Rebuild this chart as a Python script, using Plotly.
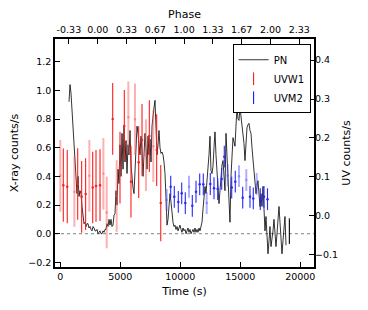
import numpy as np
import plotly.graph_objects as go

# ---------------- data ----------------
# EPIC-pn X-ray light curve (counts/s), regular bins
pn_start = 725.0
pn_bin = 83.33
pn_rate = [0.92, 1.04, 0.98, 0.86, 0.75, 0.63, 0.58, 0.44, 0.28, 0.40,
           0.26, 0.30, 0.28, 0.19, 0.12, 0.07, 0.08, 0.05, 0.07, 0.07,
           0.04, 0.05, 0.03, 0.02, 0.05, 0.04, 0.02, 0.02, 0.03, 0.00,
           0.01, 0.02, 0.00, 0.00, 0.02, 0.01, 0.03, 0.03, 0.07, 0.05,
           0.10, 0.06, 0.10, 0.05, 0.06, 0.13, 0.14, 0.30, 0.20, 0.45,
           0.35, 0.62, 0.40, 0.70, 0.45, 0.75, 0.50, 0.65, 0.42, 0.62,
           0.55, 0.72, 0.48, 0.38, 0.32, 0.28, 0.45, 0.60, 0.75, 0.70,
           0.62, 0.55, 0.68, 0.58, 0.40, 0.55, 0.70, 0.60, 0.45, 0.68,
           0.55, 0.66, 0.50, 0.75, 0.85, 0.88, 0.93, 0.78, 0.55, 0.62,
           0.72, 0.60, 0.56, 0.57, 0.55, 0.50, 0.42, 0.25, 0.06, 0.10,
           0.19, 0.28, 0.22, 0.12, 0.08, 0.05, 0.06, 0.03, 0.05, 0.02,
           0.04, 0.06, 0.03, 0.01, 0.04, 0.02, 0.03, 0.00, 0.02, 0.04,
           0.01, 0.03, 0.00, 0.02, 0.03, 0.01, 0.04, 0.01, 0.03, 0.01,
           0.04, 0.02, 0.05, 0.08, 0.17, 0.26, 0.33, 0.28, 0.36, 0.44,
           0.55, 0.68, 0.44, 0.42, 0.47, 0.60, 0.71, 0.55, 0.44, 0.30,
           0.21, 0.30, 0.44, 0.48, 0.51, 0.38, 0.30, 0.70, 0.55, 0.40,
           0.25, 0.08, 0.40, 0.55, 0.67, 0.64, 0.61, 0.75, 0.88, 0.80,
           0.79, 0.88, 0.82, 0.74, 0.68, 0.63, 0.51, 0.62, 0.74, 0.76,
           0.77, 0.72, 0.70, 0.60, 0.51, 0.42, 0.33, 0.28, 0.33, 0.37,
           0.28, 0.19, 0.28, 0.19, 0.33, 0.10, 0.02, 0.12, -0.05, -0.14,
           -0.05, 0.05, -0.09, -0.05, 0.02, 0.10, -0.02, -0.09, 0.00, 0.10,
           0.19, 0.08, -0.02, -0.14, -0.05, 0.05, 0.12, -0.08]
pn_time = list(pn_start + pn_bin * np.arange(len(pn_rate)))
# last isolated bins after a gap
pn_tail_time = [19080, 19090, 19100]
pn_tail_rate = [0.11, -0.07, 0.10]

# OM UVW1 (counts/s)
uvw1_time = [0, 250, 580, 1170, 1450, 1780, 2110, 2420, 2700, 2975, 3310, 3590, 3865,
             4365, 4700, 4975, 5335, 5670, 5890, 6225, 6530, 6810, 7140, 7420, 7750,
             8030, 8370]
uvw1_rate = [0.103, 0.079, 0.075, 0.062, 0.082, 0.049, 0.056, 0.103, 0.073, 0.077,
             0.079, 0.108, 0.009, 0.249, 0.051, 0.124, 0.231, 0.253, 0.088, 0.248,
             0.138, 0.195, 0.156, 0.205, 0.179, 0.169, 0.033]
uvw1_err = [0.092, 0.094, 0.094, 0.090, 0.092, 0.092, 0.092, 0.092, 0.092, 0.092,
            0.092, 0.092, 0.092, 0.092, 0.092, 0.092, 0.092, 0.092, 0.092, 0.092,
            0.092, 0.092, 0.092, 0.092, 0.092, 0.092, 0.098]
uvw1_faint = [1, 0, 0, 1, 0, 0, 0, 1, 0, 0, 0, 1, 1, 0, 1, 0, 0, 1, 0, 1,
              0, 0, 1, 0, 1, 0, 0]

# OM UVM2 (counts/s)
uvm2_time = [8867, 9200, 9500, 9833, 10117, 10417, 10725, 11000, 11308, 11617,
             11917, 12200, 12500, 12808, 13117, 13450, 13667, 13950, 14283, 14583,
             14892, 15200, 15500, 15808, 16083, 16367, 16667, 16975, 17267]
uvm2_rate = [0.041, 0.075, 0.049, 0.036, 0.058, 0.033, 0.075, 0.026, 0.062, 0.081,
             0.081, 0.033, 0.082, 0.071, 0.069, 0.095, 0.152, 0.104, 0.073, 0.088,
             0.102, 0.047, 0.092, 0.049, 0.045, 0.082, 0.043, 0.049, 0.043]
uvm2_err = [0.028] * len(uvm2_rate)
uvm2_faint = [1, 0, 0, 0, 0, 0, 1, 0, 0, 0, 0, 1, 0, 0, 0, 0, 0, 1, 0, 0,
              1, 0, 1, 0, 0, 1, 0, 0, 0]

# axis ticks
time_ticks = [0, 5000, 10000, 15000, 20000]
time_labels = ["0", "5000", "10000", "15000", "20000"]
phase_t0 = 3117.0
period = 7200.0
phase_ticks = [-1/3, 0, 1/3, 2/3, 1, 4/3, 5/3, 2, 7/3]
phase_labels = ["-0.33", "0.00", "0.33", "0.67", "1.00", "1.33", "1.67", "2.00", "2.33"]
xray_ticks = [-0.2, 0, 0.2, 0.4, 0.6, 0.8, 1.0, 1.2]
uv_ticks = [-0.1, 0, 0.1, 0.2, 0.3, 0.4]

x_range = [-442, 21142]
yl_range = [-0.232, 1.358]
yr_range = [-0.131, 0.454]

FONT = "DejaVu Sans"
PAGE_OFFSET = 8  # default body margin of the html page

fig = go.Figure()

# PN light curve
fig.add_trace(go.Scatter(x=pn_time + [None] + pn_tail_time,
                         y=pn_rate + [None] + pn_tail_rate,
                         mode="lines", line=dict(color="black", width=0.8),
                         connectgaps=False, showlegend=False, hoverinfo="skip",
                         xaxis="x", yaxis="y"))


def uv_traces(t, r, e, faint, strong_col, faint_col):
    for flag, col, w in [(1, faint_col, 2.0), (0, strong_col, 1.1)]:
        xs = [a for a, f in zip(t, faint) if f == flag]
        ys = [a for a, f in zip(r, faint) if f == flag]
        es = [a for a, f in zip(e, faint) if f == flag]
        fig.add_trace(go.Scatter(
            x=xs, y=ys, mode="markers",
            marker=dict(color=col, size=2.5, line=dict(width=0)),
            error_y=dict(type="data", array=es, visible=True, color=col,
                         thickness=w, width=0),
            showlegend=False, hoverinfo="skip", xaxis="x", yaxis="y2"))


uv_traces(uvw1_time, uvw1_rate, uvw1_err, uvw1_faint,
          "rgb(255,30,30)", "rgba(255,80,80,0.45)")
uv_traces(uvm2_time, uvm2_rate, uvm2_err, uvm2_faint,
          "rgb(40,40,255)", "rgba(80,80,255,0.45)")

# legend-only entries
fig.add_trace(go.Scatter(x=[None], y=[None], mode="lines", name="PN",
                         line=dict(color="black", width=0.8), xaxis="x", yaxis="y"))
fig.add_trace(go.Scatter(x=[None], y=[None], mode="markers", name="UVW1",
                         marker=dict(symbol="line-ns-open", size=9, color="red",
                                     line=dict(color="red", width=1)),
                         xaxis="x", yaxis="y"))
fig.add_trace(go.Scatter(x=[None], y=[None], mode="markers", name="UVM2",
                         marker=dict(symbol="line-ns-open", size=9, color="blue",
                                     line=dict(color="blue", width=1)),
                         xaxis="x", yaxis="y"))
# invisible trace to anchor phase axis
fig.add_trace(go.Scatter(x=[None], y=[None], xaxis="x2", yaxis="y",
                         showlegend=False, hoverinfo="skip"))

# zero line
fig.add_shape(type="line", xref="paper", yref="y", x0=0, x1=1, y0=0, y1=0,
              line=dict(color="gray", width=1, dash="dot"), layer="below")

tickfont = dict(family=FONT, size=9.5, color="black")
titlefont = dict(family=FONT, size=11, color="black")

fig.update_layout(
    width=368 - PAGE_OFFSET, height=310 - PAGE_OFFSET,
    margin=dict(l=55 - PAGE_OFFSET, r=54, t=39 - PAGE_OFFSET, b=43, autoexpand=False),
    paper_bgcolor="white", plot_bgcolor="white",
    font=dict(family=FONT, size=9.5, color="black"),
    xaxis=dict(range=x_range, tickvals=time_ticks, ticktext=time_labels,
               ticks="inside", ticklen=5, tickwidth=1, tickcolor="black",
               showline=True, linecolor="black", linewidth=1.5, mirror=True,
               showgrid=False, zeroline=False, tickfont=tickfont,
               title=dict(text="Time (s)", font=titlefont, standoff=6)),
    xaxis2=dict(overlaying="x", side="top", anchor="y",
                range=[(x_range[0] - phase_t0) / period, (x_range[1] - phase_t0) / period],
                tickvals=phase_ticks, ticktext=phase_labels,
                ticks="inside", ticklen=5, tickwidth=1, tickcolor="black",
                ticklabelstandoff=3,
                showline=False, showgrid=False, zeroline=False, tickfont=tickfont,
                title=dict(text="Phase", font=titlefont, standoff=4)),
    yaxis=dict(range=yl_range, tickvals=xray_ticks, tickformat=".1f",
               ticks="inside", ticklen=5, tickwidth=1, tickcolor="black",
               showline=True, linecolor="black", linewidth=1.5, mirror=True,
               showgrid=False, zeroline=False, tickfont=tickfont,
               title=dict(text="X-ray counts/s", font=titlefont, standoff=9)),
    yaxis2=dict(range=yr_range, overlaying="y", side="right", anchor="x",
                tickvals=uv_ticks, tickformat=".1f",
                ticks="inside", ticklen=5, tickwidth=1, tickcolor="black",
                showline=False, showgrid=False, zeroline=False, tickfont=tickfont,
                title=dict(text="UV counts/s", font=titlefont, standoff=5)),
    legend=dict(x=0.987, y=0.977, xanchor="right", yanchor="top",
                bgcolor="white", bordercolor="black", borderwidth=1,
                font=dict(family=FONT, size=10, color="black"),
                tracegroupgap=0, itemwidth=30),
)

fig.write_html("out.html")
